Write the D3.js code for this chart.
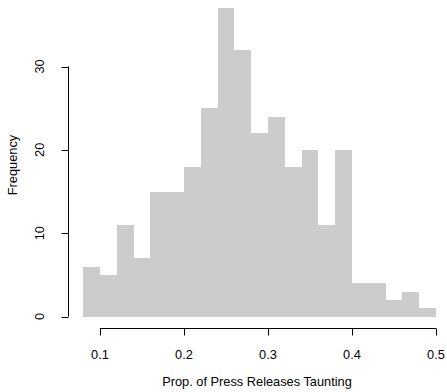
<!DOCTYPE html>
<html><head><meta charset="utf-8">
<script src="https://cdn.jsdelivr.net/npm/d3@7"></script>
<style>body{margin:0;background:#fff}svg{display:block}text{font-family:"Liberation Sans",Arial,sans-serif;font-size:12.8px;fill:#000}</style>
</head><body>
<script>
const binStart = 0.08;
const binWidth = 0.02;
const counts = [6,5,11,7,15,15,18,25,37,32,22,24,18,20,11,20,4,4,2,3,1];
const xTicks = [0.1,0.2,0.3,0.4,0.5];
const yTicks = [0,10,20,30];
const xLabel = "Prop. of Press Releases Taunting";
const yLabel = "Frequency";

const W = 447, H = 392;
const svg = d3.select("body").append("svg").attr("width", W).attr("height", H);
const x = d3.scaleLinear().domain([0.1, 0.5]).range([100, 436]);
const y = d3.scaleLinear().domain([0, 30]).range([316.5, 66.5]);

const bins = counts.map((c, i) => ({x0: binStart + i*binWidth, x1: binStart + (i+1)*binWidth, c}));
svg.append("g").selectAll("rect").data(bins).join("rect")
  .attr("x", d => x(d.x0)).attr("width", d => x(d.x1) - x(d.x0))
  .attr("y", d => y(d.c)).attr("height", d => y(0) - y(d.c))
  .attr("fill", "#cccccc").attr("shape-rendering", "crispEdges");

// x axis
const gx = svg.append("g").attr("transform", "translate(0,328.5)");
gx.append("line").attr("x1", x(0.1)).attr("x2", x(0.5)).attr("stroke", "#000");
gx.selectAll("line.t").data(xTicks).join("line").attr("class","t")
  .attr("x1", d => Math.round(x(d))+0.5).attr("x2", d => Math.round(x(d))+0.5).attr("y1", 0).attr("y2", 7).attr("stroke", "#000");
gx.selectAll("text").data(xTicks).join("text")
  .attr("x", d => x(d)).attr("y", 30).attr("text-anchor", "middle").text(d => d3.format(".1f")(d));

// y axis
const gy = svg.append("g").attr("transform", "translate(68.5,0)");
gy.append("line").attr("y1", y(0)).attr("y2", y(30)).attr("stroke", "#000");
gy.selectAll("line.t").data(yTicks).join("line").attr("class","t")
  .attr("y1", d => Math.round(y(d))+0.5).attr("y2", d => Math.round(y(d))+0.5).attr("x1", 0).attr("x2", -7).attr("stroke", "#000");
gy.selectAll("text").data(yTicks).join("text")
  .attr("transform", d => `translate(-25,${y(d)}) rotate(-90)`).attr("text-anchor", "middle").text(d => d);

svg.append("text").attr("x", 257).attr("y", 386).attr("text-anchor", "middle").text(xLabel);
svg.append("text").attr("transform", "translate(17,165) rotate(-90)").attr("text-anchor", "middle").text(yLabel);
</script>
</body></html>
